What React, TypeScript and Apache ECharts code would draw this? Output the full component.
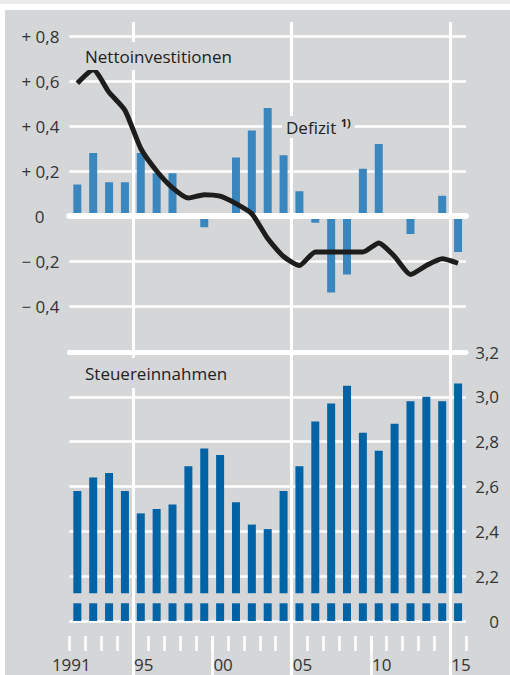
import React, { useEffect, useRef } from 'react';
import * as echarts from 'echarts';

const YEARS = ['1991','1992','1993','1994','1995','1996','1997','1998','1999','2000','2001','2002','2003','2004','2005','2006','2007','2008','2009','2010','2011','2012','2013','2014','2015'];
const DEFIZIT = [0.14, 0.28, 0.15, 0.15, 0.28, 0.19, 0.19, 0, -0.05, 0, 0.26, 0.38, 0.48, 0.27, 0.11, -0.03, -0.34, -0.26, 0.21, 0.32, 0, -0.08, 0, 0.09, -0.16];
const NETTO = [0.59, 0.65, 0.55, 0.47, 0.30, 0.20, 0.125, 0.08, 0.095, 0.088, 0.055, 0.01, -0.10, -0.18, -0.22, -0.16, -0.16, -0.16, -0.16, -0.12, -0.18, -0.26, -0.22, -0.19, -0.21];
const STEUER = [2.58, 2.64, 2.66, 2.58, 2.48, 2.50, 2.52, 2.69, 2.77, 2.74, 2.53, 2.43, 2.41, 2.58, 2.69, 2.89, 2.97, 3.05, 2.84, 2.76, 2.88, 2.98, 3.00, 2.98, 3.06];

const TOP_TICKS = [-0.4, -0.2, 0, 0.2, 0.4, 0.6, 0.8];
const TOP_TICK_LABELS = ['\u2212 0,4', '\u2212 0,2', '0', '+ 0,2', '+ 0,4', '+ 0,6', '+ 0,8'];
const BOTTOM_TICKS = [2.0, 2.2, 2.4, 2.6, 2.8, 3.0, 3.2];
const BOTTOM_TICK_LABELS = ['0', '2,2', '2,4', '2,6', '2,8', '3,0', '3,2'];
const X_LABEL_YEARS = ['1991', '1995', '2000', '2005', '2010', '2015'];
const X_LABELS = ['1991', '95', '00', '05', '10', '15'];

const BREAK_LOW = 2.079;
const BREAK_HIGH = 2.124;

const FONT = "'Open Sans', 'Noto Sans', sans-serif";
const BG = '#d5d6d8';
const TEXT = '#333333';
const GRID_LEFT = 69.4;
const GRID_W = 396.6;

function lookup(ticks: number[], labels: string[], v: number) {
  for (let i = 0; i < ticks.length; i++) {
    if (Math.abs(ticks[i] - v) < 1e-6) return labels[i];
  }
  return '';
}

export default function App() {
  const ref = useRef<HTMLDivElement>(null);
  useEffect(() => {
    if (!ref.current) return;
    const chart = echarts.init(ref.current, null, { renderer: 'svg' });
    const hidden = { show: false };
    const option: any = {
      animation: false,
      grid: [
        { left: GRID_LEFT, width: GRID_W, top: 36, height: 270, outerBoundsMode: 'none', containLabel: false },
        { left: GRID_LEFT, width: GRID_W, top: 352, height: 269, outerBoundsMode: 'none', containLabel: false },
        { left: GRID_LEFT, width: GRID_W, top: 22, height: 653, outerBoundsMode: 'none', containLabel: false },
        { left: GRID_LEFT, width: GRID_W, top: 636, height: 39, outerBoundsMode: 'none', containLabel: false },
      ],
      xAxis: [
        {
          gridIndex: 0, type: 'category', data: YEARS, z: 3,
          axisLine: { show: true, onZero: true, lineStyle: { color: '#ffffff', width: 6 } },
          axisTick: hidden, axisLabel: hidden, splitLine: hidden,
        },
        {
          gridIndex: 1, type: 'category', data: YEARS, offset: 15,
          axisLine: hidden,
          axisTick: { show: true, interval: 0, length: 15, lineStyle: { color: '#ffffff', width: 2.5 } },
          axisLabel: {
            show: true,
            interval: (i: number, v: string) => X_LABEL_YEARS.indexOf(v) >= 0,
            formatter: (v: string) => {
              const idx = X_LABEL_YEARS.indexOf(v);
              if (idx < 0) return '';
              return idx === 0 ? '{l|' + X_LABELS[idx] + '}' : '{r|' + X_LABELS[idx] + '}';
            },
            margin: 20,
            color: TEXT, fontFamily: FONT, fontSize: 17, lineHeight: 17,
            rich: {
              l: { color: TEXT, fontFamily: FONT, fontSize: 17, lineHeight: 17, padding: [0, 12, 0, 0] },
              r: { color: TEXT, fontFamily: FONT, fontSize: 17, lineHeight: 17, padding: [0, 0, 0, 6] },
            },
          },
          splitLine: hidden,
        },
        {
          gridIndex: 2, type: 'category', data: YEARS,
          axisLine: hidden, axisTick: hidden, axisLabel: hidden,
          splitLine: {
            show: true, showMinLine: true, showMaxLine: false,
            interval: (i: number) => i === 4 || i === 14 || i === 24,
            lineStyle: { color: '#ffffff', width: 3 },
          },
        },
        {
          gridIndex: 3, type: 'category', data: YEARS,
          axisLine: hidden, axisTick: hidden, axisLabel: hidden,
          splitLine: {
            show: true, showMinLine: true, showMaxLine: false,
            interval: (i: number) => i === 9 || i === 19,
            lineStyle: { color: '#ffffff', width: 2.5 },
          },
        },
        {
          gridIndex: 1, type: 'category', data: YEARS, z: 3,
          axisLine: { show: true, onZero: false, lineStyle: { color: '#ffffff', width: 5 } },
          axisTick: hidden, axisLabel: hidden, splitLine: hidden,
        },
      ],
      yAxis: [
        {
          gridIndex: 0, type: 'value', min: -0.4, max: 0.8, interval: 0.2, position: 'left',
          axisLine: hidden, axisTick: hidden,
          splitLine: { show: true, lineStyle: { color: '#ffffff', width: 2.5 } },
          axisLabel: {
            margin: 10, color: TEXT, fontFamily: FONT, fontSize: 17,
            formatter: (v: number) => {
              const s = lookup(TOP_TICKS, TOP_TICK_LABELS, v);
              return s === '0' ? '{z|0}' : s;
            },
            rich: { z: { color: TEXT, fontFamily: FONT, fontSize: 17, padding: [0, 15, 0, 0] } },
          },
        },
        {
          gridIndex: 1, type: 'value', min: 2.0, max: 3.2, interval: 0.2, position: 'right',
          axisLine: hidden, axisTick: hidden,
          splitLine: { show: true, lineStyle: { color: '#ffffff', width: 2.5 } },
          axisLabel: {
            margin: 33, align: 'right', color: TEXT, fontFamily: FONT, fontSize: 17,
            formatter: (v: number) => lookup(BOTTOM_TICKS, BOTTOM_TICK_LABELS, v),
          },
        },
        { gridIndex: 2, type: 'value', show: false },
        { gridIndex: 3, type: 'value', show: false },
      ],
      graphic: [
        {
          type: 'text', x: 81, y: 56, z: 100,
          style: {
            text: 'Nettoinvestitionen', fill: '#222222', fontFamily: FONT, fontSize: 17, lineHeight: 20,
            align: 'left', verticalAlign: 'middle', backgroundColor: BG, padding: [4, 4, 4, 4],
          },
        },
        {
          type: 'text', x: 282, y: 127, z: 100,
          style: {
            text: 'Defizit {sup|1)}', fill: '#222222', fontFamily: FONT, fontSize: 17, lineHeight: 20,
            align: 'left', verticalAlign: 'middle', backgroundColor: BG, padding: [1, 4, 1, 4],
            rich: { sup: { fill: '#222222', fontFamily: FONT, fontSize: 11, fontWeight: 'bold', lineHeight: 20, padding: [0, 0, 9, 0] } },
          },
        },
        {
          type: 'text', x: 81, y: 373, z: 100,
          style: {
            text: 'Steuereinnahmen', fill: '#222222', fontFamily: FONT, fontSize: 17, lineHeight: 20,
            align: 'left', verticalAlign: 'middle', backgroundColor: BG, padding: [5, 4, 5, 4],
          },
        },
      ],
      series: [
        {
          name: 'Defizit', type: 'bar', xAxisIndex: 0, yAxisIndex: 0, data: DEFIZIT,
          barWidth: 8, itemStyle: { color: '#3a87bf' }, z: 2,
        },
        {
          name: 'Nettoinvestitionen', type: 'line', xAxisIndex: 0, yAxisIndex: 0, data: NETTO,
          symbol: 'none', smooth: 0.2, z: 10,
          lineStyle: { color: '#1d1d1b', width: 5, join: 'miter', cap: 'butt' },
        },
        {
          name: 'SteuerBase', type: 'bar', xAxisIndex: 1, yAxisIndex: 1, stack: 'steuer',
          data: STEUER.map(() => BREAK_LOW), barWidth: 8, itemStyle: { color: '#0063a5' }, z: 2,
        },
        {
          name: 'SteuerGap', type: 'bar', xAxisIndex: 1, yAxisIndex: 1, stack: 'steuer',
          data: STEUER.map(() => BREAK_HIGH - BREAK_LOW), barWidth: 8, itemStyle: { color: 'rgba(0,0,0,0)' }, z: 2,
        },
        {
          name: 'Steuereinnahmen', type: 'bar', xAxisIndex: 1, yAxisIndex: 1, stack: 'steuer',
          data: STEUER.map((v) => v - BREAK_HIGH), barWidth: 8, itemStyle: { color: '#0063a5' }, z: 2,
        },
      ],
    };
    chart.setOption(option);
    return () => chart.dispose();
  }, []);

  return (
    <div style={{ position: 'fixed', left: 0, top: 0, width: 510, height: 675, background: '#ffffff', overflow: 'hidden' }}>
      <div style={{ position: 'absolute', left: 0, top: 0, width: 510, height: 4, background: '#ebebed' }} />
      <div style={{ position: 'absolute', left: 5, top: 10, width: 505, height: 665, background: BG }} />
      <div ref={ref} style={{ position: 'absolute', left: 0, top: 0, width: 510, height: 675 }} />
    </div>
  );
}
